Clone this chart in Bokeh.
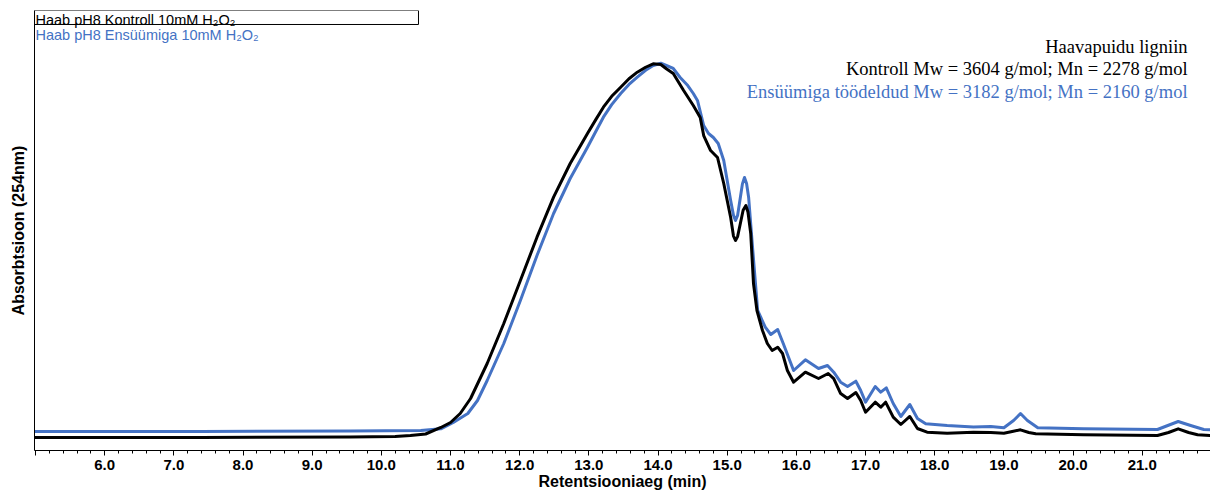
from bokeh.plotting import figure
from bokeh.models import Range1d, FixedTicker, CustomJSTickFormatter, Label, BoxAnnotation
from bokeh.embed import file_html
from bokeh.resources import INLINE
import numpy as np

# Retention time (min) and absorbance (arbitrary units, 254 nm)
kontroll_t = [4.98, 7.39, 9.55, 10.20, 10.42, 10.64, 10.86, 11.00, 11.14, 11.29, 11.53, 11.77,
              12.01, 12.25, 12.49, 12.73, 12.98, 13.10, 13.21, 13.33, 13.46, 13.58, 13.70, 13.82,
              13.93, 14.04, 14.12, 14.22, 14.37, 14.51, 14.61, 14.66, 14.76, 14.86, 14.95, 15.05,
              15.09, 15.12, 15.15, 15.19, 15.23, 15.27, 15.30, 15.34, 15.38, 15.43, 15.51, 15.58,
              15.65, 15.73, 15.80, 15.87, 15.96, 16.13, 16.32, 16.46, 16.54, 16.64, 16.74, 16.86,
              16.93, 17.00, 17.14, 17.22, 17.29, 17.40, 17.51, 17.64, 17.75, 17.89, 18.18, 18.56,
              18.81, 19.00, 19.12, 19.24, 19.36, 19.46, 20.15, 21.22, 21.38, 21.52, 21.67, 21.80,
              21.99]
kontroll_a = [2.95, 2.95, 3.07, 3.18, 3.41, 3.75, 5.23, 6.36, 8.41, 11.82, 19.77, 28.86,
              38.64, 48.48, 57.57, 65.23, 72.05, 75.20, 78.02, 80.50, 82.57, 84.50, 85.98, 87.10,
              87.89, 87.73, 86.75, 85.68, 81.82, 78.41, 75.68, 71.59, 68.18, 66.59, 60.68, 52.95,
              48.80, 47.73, 48.60, 51.59, 54.60, 55.68, 54.20, 49.32, 37.95, 31.82, 27.27, 24.32,
              22.73, 23.48, 22.05, 18.18, 15.52, 17.80, 16.36, 17.50, 16.36, 12.95, 11.82, 13.18,
              11.36, 8.70, 10.98, 9.84, 10.98, 7.57, 5.91, 7.73, 5.00, 4.16, 3.93, 4.16,
              4.09, 3.93, 4.32, 4.70, 4.09, 3.80, 3.57, 3.41, 4.09, 4.93, 4.09, 3.57,
              3.41]

ensyym_t = [4.98, 7.39, 9.55, 10.57, 10.86, 11.04, 11.25, 11.39, 11.53, 11.77, 12.01, 12.25,
            12.49, 12.73, 12.98, 13.10, 13.21, 13.33, 13.46, 13.58, 13.70, 13.82, 13.93, 14.04,
            14.12, 14.22, 14.32, 14.43, 14.51, 14.57, 14.66, 14.73, 14.80, 14.87, 14.95, 15.05,
            15.09, 15.12, 15.15, 15.19, 15.22, 15.25, 15.28, 15.31, 15.37, 15.44, 15.55, 15.63,
            15.73, 15.81, 15.96, 16.13, 16.32, 16.45, 16.54, 16.64, 16.74, 16.86, 16.93, 17.00,
            17.14, 17.22, 17.30, 17.40, 17.51, 17.64, 17.75, 17.87, 18.18, 18.56, 18.81, 19.00,
            19.14, 19.24, 19.34, 19.49, 20.15, 21.22, 21.37, 21.52, 21.70, 21.89, 21.99]
ensyym_a = [4.32, 4.32, 4.43, 4.55, 4.93, 6.36, 8.41, 11.36, 15.91, 24.32, 34.09, 44.32,
            53.86, 61.82, 68.93, 72.50, 75.75, 78.60, 81.14, 83.20, 84.84, 86.40, 87.50, 88.02,
            87.50, 86.82, 84.77, 82.95, 81.14, 79.55, 73.86, 72.05, 71.14, 69.77, 65.91, 56.82,
            53.50, 52.27, 53.40, 57.50, 60.60, 62.05, 60.70, 57.50, 45.45, 31.82, 28.02, 26.36,
            27.50, 24.32, 18.18, 20.61, 18.64, 19.32, 17.80, 15.52, 14.55, 15.75, 13.64, 10.98,
            14.55, 13.25, 14.25, 10.68, 7.73, 10.45, 7.27, 6.07, 5.68, 5.34, 5.45, 5.16,
            6.82, 8.41, 6.82, 5.16, 4.93, 4.77, 5.68, 6.59, 5.68, 4.77, 4.70]

legend_labels = ["Haab pH8 Kontroll 10mM H\u2082O\u2082", "Haab pH8 Ensüümiga 10mM H\u2082O\u2082"]
info_lines = ["Haavapuidu ligniin",
              "Kontroll Mw = 3604 g/mol; Mn = 2278 g/mol",
              "Ensüümiga töödeldud Mw = 3182 g/mol; Mn = 2160 g/mol"]
x_title = "Retentsiooniaeg (min)"
y_title = "Absorbtsioon (254nm)"

BLACK = "#000000"
BLUE = "#4472C4"

p = figure(width=1210, height=494, output_backend="svg", toolbar_location=None,
           x_range=Range1d(4.9855, 21.987), y_range=Range1d(0, 100),
           min_border_left=34, min_border_right=0, min_border_top=10, min_border_bottom=44)
p.outline_line_color = None
p.xgrid.visible = False
p.ygrid.visible = False

p.line(ensyym_t, ensyym_a, line_color=BLUE, line_width=3, line_join="round")
p.line(kontroll_t, kontroll_a, line_color=BLACK, line_width=3, line_join="round")

# x axis
majors = list(np.arange(5, 22, 1.0))
minors = [m for m in np.round(np.arange(5, 22.01, 0.2), 2) if abs(m - round(m)) > 1e-6]
xa = p.xaxis[0]
xa.ticker = FixedTicker(ticks=majors, minor_ticks=minors)
xa.formatter = CustomJSTickFormatter(code="return tick < 5.5 ? '' : tick.toFixed(1);")
xa.axis_line_color = BLACK
xa.major_tick_line_color = BLACK
xa.minor_tick_line_color = BLACK
xa.major_tick_in = 0
xa.major_tick_out = 5
xa.minor_tick_in = 0
xa.minor_tick_out = 3
xa.major_label_text_font = "Liberation Sans"
xa.major_label_text_font_style = "bold"
xa.major_label_text_font_size = "15px"
xa.major_label_text_color = BLACK
xa.major_label_standoff = 4
xa.axis_label = x_title
xa.axis_label_text_font = "Liberation Sans"
xa.axis_label_text_font_style = "bold"
xa.axis_label_text_font_size = "16px"
xa.axis_label_text_color = BLACK
xa.axis_label_standoff = 0

# y axis
ya = p.yaxis[0]
ya.ticker = FixedTicker(ticks=[])
ya.major_tick_line_color = None
ya.minor_tick_line_color = None
ya.major_label_text_font_size = "0px"
ya.axis_line_color = BLACK
ya.axis_label = y_title
ya.axis_label_text_font = "Liberation Sans"
ya.axis_label_text_font_style = "bold"
ya.axis_label_text_font_size = "16px"
ya.axis_label_text_color = BLACK
ya.axis_label_standoff = 8

# legend-like labels at top left
p.add_layout(BoxAnnotation(left=4.986, right=10.537, top=100, bottom=96.82,
                           fill_alpha=0, line_color=BLACK, line_alpha=1.0, line_width=1))
p.add_layout(Label(x=5.0, y=97.75, text=legend_labels[0], text_font="Liberation Sans",
                   text_font_size="14.5px", text_color=BLACK, text_baseline="alphabetic"))
p.add_layout(Label(x=5.0, y=94.45, text=legend_labels[1], text_font="Liberation Sans",
                   text_font_size="14.5px", text_color=BLUE, text_baseline="alphabetic"))

# info text at top right
for txt, yy, col in zip(info_lines, [91.7, 86.6, 81.5], [BLACK, BLACK, BLUE]):
    p.add_layout(Label(x=21.655, y=yy, text=txt, text_align="right", text_baseline="alphabetic",
                       text_font="Liberation Serif", text_font_size="18.5px", text_color=col))

open("out.html", "w").write(file_html(p, INLINE))
